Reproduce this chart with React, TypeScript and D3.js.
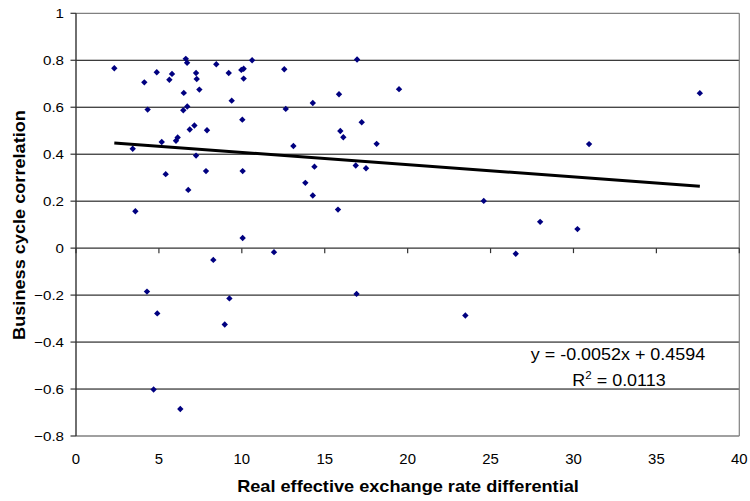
import React from "react";
import * as d3 from "d3";

// Real effective exchange rate differential (x) vs business cycle correlation (y)
const xValues = [
  2.31, 4.12, 4.87, 4.32, 5.63, 5.79, 6.62, 6.7, 6.5, 7.24,
  7.28, 7.44, 8.46, 9.21, 9.39, 9.97, 10.11, 10.11, 10.03, 6.47,
  6.71, 7.14, 6.86, 7.9, 5.17, 6.03, 6.13, 3.42, 7.24, 10.62,
  12.56, 16.95, 19.48, 15.86, 14.28, 12.65, 17.23, 15.94, 16.12, 13.11,
  18.13, 14.38, 16.87, 17.49, 37.62, 30.94, 10.05, 13.83, 14.28, 15.8,
  24.59, 10.05, 11.94, 16.92, 23.48, 27.99, 30.24, 26.52, 5.41, 6.77,
  7.84, 3.58, 8.28, 4.28, 4.9, 9.25, 8.97, 4.68, 6.29,
];
const yValues = [
  0.766, 0.706, 0.749, 0.59, 0.717, 0.742, 0.806, 0.789, 0.661, 0.746,
  0.72, 0.675, 0.783, 0.746, 0.628, 0.759, 0.764, 0.722, 0.547, 0.587,
  0.603, 0.522, 0.505, 0.502, 0.452, 0.457, 0.471, 0.423, 0.394, 0.8,
  0.762, 0.803, 0.677, 0.655, 0.618, 0.593, 0.536, 0.499, 0.472, 0.435,
  0.444, 0.347, 0.352, 0.34, 0.66, 0.443, 0.328, 0.278, 0.224, 0.164,
  0.201, 0.043, -0.017, -0.195, -0.287, 0.112, 0.081, -0.024, 0.315, 0.248,
  0.328, 0.157, -0.05, -0.185, -0.278, -0.214, -0.325, -0.602, -0.685,
];

// Linear trendline (as reported on chart)
const trendCoefficients = [-0.0052, 0.4594]; // slope, intercept
const equationLabel = "y = -0.0052x + 0.4594";
const r2Value = "0.0113";

const xTicks = [0, 5, 10, 15, 20, 25, 30, 35, 40];
const yTicks = [-0.8, -0.6, -0.4, -0.2, 0, 0.2, 0.4, 0.6, 0.8, 1];

const xTitle = "Real effective exchange rate differential";
const yTitle = "Business cycle correlation";

const FONT = "'Liberation Sans', Arial, Helvetica, sans-serif";

type TProps = {
  x: number;
  y: number;
  anchor?: string;
  size: number;
  weight?: string | number;
  rotate?: number;
  sx?: number;
  children: React.ReactNode;
};

const T = ({ x, y, anchor = "start", size, weight = "normal", rotate = 0, sx = 1, children }: TProps) => (
  <text
    transform={`translate(${x},${y}) rotate(${rotate}) scale(${sx},1)`}
    textAnchor={anchor as any}
    fontSize={size}
    fontWeight={weight as any}
    fontFamily={FONT}
    fill="#000"
  >
    {children}
  </text>
);

export default function App() {
  const W = 750;
  const H = 501;
  const left = 76;
  const right = 739.3;
  const top = 13.3;
  const bottom = 436;

  const xScale = d3.scaleLinear().domain([0, 40]).range([left, right]);
  const yScale = d3.scaleLinear().domain([-0.8, 1]).range([bottom, top]);

  const [slope, intercept] = trendCoefficients;
  const [xMin, xMax] = d3.extent(xValues) as [number, number];
  const trendPts: [number, number][] = [
    [xMin, slope * xMin + intercept],
    [xMax, slope * xMax + intercept],
  ];
  const line = d3
    .line<[number, number]>()
    .x((d) => xScale(d[0]))
    .y((d) => yScale(d[1]));

  const diamond = d3.symbol().type(d3.symbolDiamond2).size(26)();
  const y0 = yScale(0);

  return (
    <svg
      width={W}
      height={H}
      style={{ position: "absolute", left: 0, top: 0, background: "#fff" }}
    >
      {/* gridlines */}
      {yTicks
        .filter((t) => t !== 0 && t !== 1 && t !== -0.8)
        .map((t) => (
          <line
            key={"g" + t}
            x1={left}
            x2={right}
            y1={yScale(t)}
            y2={yScale(t)}
            stroke="#000"
            strokeWidth={1}
          />
        ))}
      {/* plot border */}
      <line x1={left} x2={right} y1={top} y2={top} stroke="#808080" strokeWidth={1.2} />
      <line x1={right} x2={right} y1={top} y2={bottom} stroke="#808080" strokeWidth={1.2} />
      <line x1={left} x2={right} y1={bottom} y2={bottom} stroke="#808080" strokeWidth={1.5} />

      {/* x axis at y = 0 */}
      <line x1={left} x2={right} y1={y0} y2={y0} stroke="#333" strokeWidth={1.3} />
      {xTicks.map((t) => (
        <line
          key={"xt" + t}
          x1={xScale(t)}
          x2={xScale(t)}
          y1={y0}
          y2={y0 + 5}
          stroke="#333"
          strokeWidth={1.2}
        />
      ))}
      {/* y axis */}
      <line x1={left} x2={left} y1={top} y2={bottom} stroke="#333" strokeWidth={1.4} />
      {yTicks.map((t) => (
        <line
          key={"yt" + t}
          x1={left - 5.5}
          x2={left}
          y1={yScale(t)}
          y2={yScale(t)}
          stroke="#333"
          strokeWidth={1.2}
        />
      ))}

      {/* tick labels */}
      {yTicks.map((t) => (
        <T key={"yl" + t} x={64} y={yScale(t) + 4.8} anchor="end" size={13.5} sx={1.12}>
          {d3.format("")(+t.toFixed(1))}
        </T>
      ))}
      {xTicks.map((t) => (
        <T key={"xl" + t} x={xScale(t)} y={464} anchor="middle" size={14.5} sx={1.03}>
          {t}
        </T>
      ))}

      {/* points */}
      {xValues.map((xv, i) => (
        <path
          key={"p" + i}
          d={diamond as string}
          transform={`translate(${xScale(xv)},${yScale(yValues[i])})`}
          fill="#000080"
        />
      ))}

      {/* trendline */}
      <path d={line(trendPts) as string} stroke="#000" strokeWidth={3} fill="none" />

      {/* equation */}
      <T x={618} y={359.5} anchor="middle" size={16.3} sx={1.1}>
        {equationLabel}
      </T>
      <text
        transform={`translate(619,386) scale(1.1,1)`}
        textAnchor="middle"
        fontSize={16.3}
        fontFamily={FONT}
        fill="#000"
      >
        R<tspan fontSize={10.5} dy={-7}>2</tspan>
        <tspan dy={7}> = {r2Value}</tspan>
      </text>

      {/* axis titles */}
      <T x={408} y={491.5} anchor="middle" size={16.5} weight="bold" sx={1.1}>
        {xTitle}
      </T>
      <T x={25} y={225} anchor="middle" size={16.5} weight="bold" rotate={-90} sx={1.1}>
        {yTitle}
      </T>
    </svg>
  );
}
